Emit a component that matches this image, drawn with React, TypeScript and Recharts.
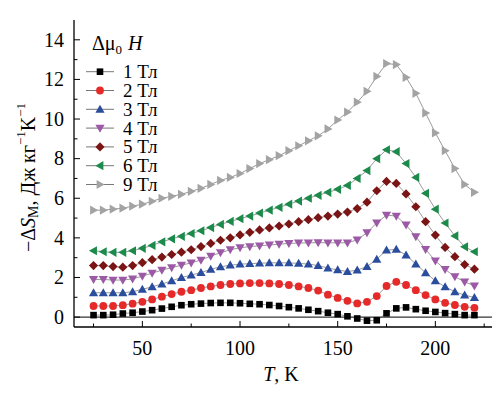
import React from "react";
import { LineChart, Line, XAxis, YAxis, ReferenceLine } from "recharts";

const FONT = "'Liberation Serif', 'Times New Roman', 'DejaVu Serif', serif";
const txt = { fontFamily: FONT };

// temperature points, K
const temps = [
  25, 30, 35, 40, 45, 50, 55, 60, 65, 70,
  75, 80, 85, 90, 95, 100, 105, 110, 115, 120,
  125, 130, 135, 140, 145, 150, 155, 160, 165, 170,
  175, 180, 185, 190, 195, 200, 205, 210, 215, 220,
];

// -dS_M for each field change, J/(kg K)
const field1 = [
  0.1, 0.1, 0.12, 0.18, 0.22, 0.28, 0.35, 0.43, 0.52, 0.6,
  0.65, 0.68, 0.71, 0.72, 0.72, 0.7, 0.67, 0.65, 0.61, 0.56,
  0.5, 0.44, 0.37, 0.3, 0.22, 0.15, 0.04, -0.07, -0.18, -0.16,
  0.19, 0.44, 0.49, 0.4, 0.32, 0.26, 0.2, 0.15, 0.1, 0.1,
];
const field2 = [
  0.56, 0.56, 0.56, 0.6, 0.68, 0.77, 0.89, 1.03, 1.16, 1.28,
  1.36, 1.47, 1.55, 1.62, 1.67, 1.7, 1.72, 1.72, 1.7, 1.67,
  1.62, 1.55, 1.47, 1.34, 1.13, 0.97, 0.82, 0.69, 0.77, 1.06,
  1.57, 1.78, 1.62, 1.36, 1.11, 0.89, 0.72, 0.61, 0.52, 0.47,
];
const field3 = [
  1.23, 1.23, 1.23, 1.23, 1.28, 1.4, 1.53, 1.67, 1.83, 2.0,
  2.12, 2.25, 2.41, 2.54, 2.62, 2.67, 2.7, 2.72, 2.74, 2.74,
  2.74, 2.71, 2.68, 2.6, 2.48, 2.38, 2.3, 2.37, 2.55, 2.92,
  3.38, 3.42, 3.13, 2.68, 2.24, 1.83, 1.53, 1.28, 1.11, 0.99,
];
const field4 = [
  1.9, 1.9, 1.87, 1.87, 1.93, 2.07, 2.22, 2.37, 2.5, 2.62,
  2.74, 2.88, 3.08, 3.25, 3.4, 3.5, 3.56, 3.6, 3.64, 3.68,
  3.72, 3.74, 3.75, 3.76, 3.75, 3.75, 3.75, 3.9, 4.26, 4.76,
  5.15, 5.1, 4.65, 4.06, 3.42, 2.84, 2.41, 2.04, 1.78, 1.58,
];
const field5 = [
  2.6, 2.6, 2.55, 2.52, 2.6, 2.75, 2.9, 3.03, 3.16, 3.28,
  3.4, 3.56, 3.72, 3.88, 4.0, 4.15, 4.28, 4.4, 4.5, 4.6,
  4.7, 4.82, 4.92, 5.02, 5.1, 5.2, 5.3, 5.48, 5.8, 6.38,
  6.85, 6.75, 6.22, 5.57, 4.82, 4.14, 3.52, 3.05, 2.65, 2.42,
];
const field6 = [
  3.35, 3.3, 3.27, 3.27, 3.35, 3.47, 3.62, 3.8, 3.95, 4.08,
  4.22, 4.36, 4.52, 4.68, 4.83, 4.97, 5.1, 5.25, 5.4, 5.54,
  5.7, 5.86, 6.0, 6.15, 6.3, 6.45, 6.65, 7.0, 7.4, 8.0,
  8.45, 8.35, 7.75, 7.05, 6.25, 5.45, 4.75, 4.1, 3.55, 3.3,
];
const field9 = [
  5.4, 5.4, 5.45, 5.5, 5.6, 5.7, 5.85, 6.0, 6.1, 6.2,
  6.35, 6.5, 6.7, 6.9, 7.05, 7.25, 7.5, 7.75, 7.95, 8.15,
  8.4, 8.65, 8.9, 9.15, 9.5, 9.95, 10.35, 10.85, 11.4, 12.15,
  12.8, 12.75, 12.1, 11.3, 10.3, 9.3, 8.4, 7.5, 6.7, 6.3,
];

const xTicks = [25, 50, 75, 100, 125, 150, 175, 200, 225];
const yTicks = [0, 1, 2, 3, 4, 5, 6, 7, 8, 9, 10, 11, 12, 13, 14];

const series = [
  { key: "f1", label: "1 Тл", values: field1, color: "#000000", shape: "square" },
  { key: "f2", label: "2 Тл", values: field2, color: "#e62a2a", shape: "circle" },
  { key: "f3", label: "3 Тл", values: field3, color: "#2a4d9e", shape: "up" },
  { key: "f4", label: "4 Тл", values: field4, color: "#9c5aa6", shape: "down" },
  { key: "f5", label: "5 Тл", values: field5, color: "#7b1414", shape: "diamond" },
  { key: "f6", label: "6 Тл", values: field6, color: "#1b8a4b", shape: "left" },
  { key: "f9", label: "9 Тл", values: field9, color: "#a3a3a3", shape: "right" },
];

const rows = temps.map((t, i) => {
  const row: Record<string, number> = { T: t };
  series.forEach((s) => (row[s.key] = s.values[i]));
  return row;
});

const Marker = ({ cx, cy, shape, color }: any) => {
  if (cx == null || cy == null) return null;
  const a = 4.6;
  const b = 3.4;
  switch (shape) {
    case "square":
      return <rect x={cx - 3.3} y={cy - 3.3} width={6.6} height={6.6} fill={color} />;
    case "circle":
      return <circle cx={cx} cy={cy} r={3.9} fill={color} />;
    case "up":
      return <polygon points={`${cx},${cy - a} ${cx + a},${cy + b} ${cx - a},${cy + b}`} fill={color} />;
    case "down":
      return <polygon points={`${cx},${cy + a} ${cx + a},${cy - b} ${cx - a},${cy - b}`} fill={color} />;
    case "diamond":
      return <polygon points={`${cx},${cy - 4.6} ${cx + 4.6},${cy} ${cx},${cy + 4.6} ${cx - 4.6},${cy}`} fill={color} />;
    case "left":
      return <polygon points={`${cx - a},${cy} ${cx + b},${cy - a} ${cx + b},${cy + a}`} fill={color} />;
    default:
      return <polygon points={`${cx + a},${cy} ${cx - b},${cy - a} ${cx - b},${cy + a}`} fill={color} />;
  }
};

// tick renderers: inward tick marks, labels only on major ticks
const BottomTick = ({ x, y, payload }: any) => {
  const major = payload.value % 50 === 0;
  return (
    <g>
      <line x1={x} x2={x} y1={y} y2={y - (major ? 6 : 3.5)} stroke="#000" strokeWidth={1} />
      {major && (
        <text x={x} y={y + 28} textAnchor="middle" fontSize={20} style={txt} fill="#000">
          {payload.value}
        </text>
      )}
    </g>
  );
};

const TopTick = ({ x, y, payload }: any) => {
  const major = payload.value % 50 === 0;
  return <line x1={x} x2={x} y1={y} y2={y + (major ? 6 : 3.5)} stroke="#000" strokeWidth={1} />;
};

const LeftTick = ({ x, y, payload }: any) => {
  const major = payload.value % 2 === 0;
  return (
    <g>
      <line x1={x} x2={x + (major ? 6 : 3.5)} y1={y} y2={y} stroke="#000" strokeWidth={1} />
      {major && (
        <text x={x - 10} y={y + 6.8} textAnchor="end" fontSize={20} style={txt} fill="#000">
          {payload.value}
        </text>
      )}
    </g>
  );
};

const RightTick = ({ x, y, payload }: any) => {
  const major = payload.value % 2 === 0;
  return <line x1={x} x2={x - (major ? 6 : 3.5)} y1={y} y2={y} stroke="#000" strokeWidth={1} />;
};

const YTitle = ({ viewBox }: any) => {
  const cx = viewBox.x + 28;
  const cy = viewBox.y + viewBox.height / 2 + 4;
  return (
    <text
      transform={`translate(${cx},${cy}) rotate(-90)`}
      textAnchor="middle"
      dominantBaseline="central"
      fontSize={20}
      style={txt}
      fill="#000"
    >
      <tspan>−Δ</tspan>
      <tspan fontStyle="italic">S</tspan>
      <tspan fontSize={14} dy={5}>M</tspan>
      <tspan dy={-5} fontStyle="normal">, Дж кг</tspan>
      <tspan fontSize={13} dy={-8}>−1</tspan>
      <tspan dy={8}>K</tspan>
      <tspan fontSize={13} dy={-8}>−1</tspan>
    </text>
  );
};

const XTitle = ({ viewBox }: any) => (
  <text
    x={viewBox.x + viewBox.width / 2 - 2}
    y={viewBox.y + 54}
    textAnchor="middle"
    fontSize={20}
    style={txt}
    fill="#000"
  >
    <tspan fontStyle="italic">T</tspan>
    <tspan>, K</tspan>
  </text>
);

const FieldLegend = () => (
  <svg width={120} height={200} style={{ position: "absolute", left: 80, top: 25, overflow: "visible" }}>
    <g transform="translate(-80,-25)" style={txt} fill="#000">
      <text x={92} y={50} fontSize={20} style={txt}>
        Δμ<tspan fontSize={13} dy={4}>0</tspan>
        <tspan dy={-4} dx={6} fontStyle="italic">H</tspan>
      </text>
      {series.map((s, i) => {
        const cy = 71.7 + i * 18.8;
        return (
          <g key={s.key}>
            <line x1={86} x2={114} y1={cy} y2={cy} stroke="#555" strokeWidth={0.8} />
            <Marker cx={100} cy={cy} shape={s.shape} color={s.color} />
            <text x={123} y={cy + 6.5} fontSize={19} style={txt}>
              {s.label}
            </text>
          </g>
        );
      })}
    </g>
  </svg>
);

const frame = { stroke: "#000", strokeWidth: 1.3 };

export default function App() {
  return (
    <div style={{ position: "absolute", left: 0, top: 0, width: 502, height: 395, background: "#fff" }}>
      <LineChart width={502} height={395} data={rows} margin={{ top: 20, right: 10, bottom: 0, left: 0 }}>
        <XAxis
          xAxisId="b"
          dataKey="T"
          type="number"
          domain={[15, 229]}
          allowDataOverflow
          ticks={xTicks}
          interval={0}
          tickSize={0}
          tickMargin={0}
          tickLine={false}
          axisLine={frame}
          height={68}
          tick={(p: any) => <BottomTick {...p} />}
          label={{ content: (p: any) => <XTitle {...p} /> }}
        />
        <XAxis
          xAxisId="t"
          orientation="top"
          dataKey="T"
          type="number"
          domain={[15, 229]}
          allowDataOverflow
          ticks={xTicks}
          interval={0}
          tickSize={0}
          tickMargin={0}
          tickLine={false}
          axisLine={frame}
          height={0}
          tick={(p: any) => <TopTick {...p} />}
        />
        <YAxis
          yAxisId="l"
          type="number"
          domain={[-0.5, 15]}
          allowDataOverflow
          ticks={yTicks}
          interval={0}
          tickSize={0}
          tickMargin={0}
          tickLine={false}
          axisLine={frame}
          width={74}
          tick={(p: any) => <LeftTick {...p} />}
          label={{ content: (p: any) => <YTitle {...p} /> }}
        />
        <YAxis
          yAxisId="r"
          orientation="right"
          type="number"
          domain={[-0.5, 15]}
          allowDataOverflow
          ticks={yTicks}
          interval={0}
          tickSize={0}
          tickMargin={0}
          tickLine={false}
          axisLine={frame}
          width={0}
          tick={(p: any) => <RightTick {...p} />}
        />
        <ReferenceLine xAxisId="b" yAxisId="l" y={0} stroke="#000" strokeWidth={1} />
        {series.map((s) => (
          <Line
            key={s.key}
            xAxisId="b"
            yAxisId="l"
            type="linear"
            dataKey={s.key}
            stroke="#555"
            strokeWidth={0.6}
            isAnimationActive={false}
            activeDot={false}
            dot={(p: any) => (
              <Marker key={`${s.key}-${p.index}`} cx={p.cx} cy={p.cy} shape={s.shape} color={s.color} />
            )}
          />
        ))}
      </LineChart>
      <FieldLegend />
    </div>
  );
}
